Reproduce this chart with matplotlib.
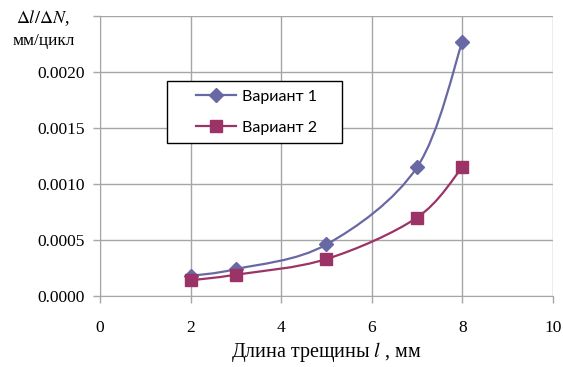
import numpy as np
import matplotlib.pyplot as plt
from matplotlib.path import Path
from matplotlib.patches import PathPatch, Rectangle
from matplotlib.lines import Line2D

# crack length, mm
crack_len = [2, 3, 5, 7, 8]
# growth rate dl/dN, mm/cycle
rate_v1 = [0.00018, 0.00024, 0.00046, 0.00115, 0.00227]
rate_v2 = [0.00014, 0.00019, 0.00033, 0.00070, 0.00115]
series_names = ["Вариант 1", "Вариант 2"]

x_ticks = [0, 2, 4, 6, 8, 10]
y_ticks = [0.0, 0.0005, 0.0010, 0.0015, 0.0020, 0.0025]
y_labels = ["0.0000", "0.0005", "0.0010", "0.0015", "0.0020", ""]

COL1 = "#6868a4"
COL2 = "#9c3366"
GRID = "#a6a6a6"
SERIF = "Liberation Serif"


def smooth_path(xs, ys):
    """Excel-like smoothed line: cubic Bezier through the points."""
    pts = np.column_stack([xs, ys]).astype(float)
    ext = np.vstack([pts[0], pts, pts[-1]])
    verts = [pts[0]]
    codes = [Path.MOVETO]
    for i in range(len(pts) - 1):
        p0, p1, p2, p3 = ext[i], ext[i + 1], ext[i + 2], ext[i + 3]
        verts += [p1 + (p2 - p0) / 6, p2 - (p3 - p1) / 6, p2]
        codes += [Path.CURVE4] * 3
    return Path(verts, codes)


fig = plt.figure(figsize=(5.63, 3.67), dpi=100)
ax = fig.add_axes([0.1776, 0.1935, 0.8044, 0.7625])

for ys, col, mk, ms in [(rate_v1, COL1, "D", 7), (rate_v2, COL2, "s", 8)]:
    ax.add_patch(PathPatch(smooth_path(crack_len, ys), facecolor="none",
                           edgecolor=col, lw=1.6, zorder=3))
    ax.plot(crack_len, ys, ls="none", marker=mk, ms=ms, color=col, zorder=4)

ax.set_xlim(0, 10)
ax.set_ylim(0, 0.0025)
ax.set_xticks(x_ticks)
ax.set_yticks(y_ticks)
ax.set_yticklabels(y_labels)
ax.grid(True, color=GRID, lw=1)
ax.set_axisbelow(True)
for s in ["top", "right"]:
    ax.spines[s].set_visible(False)
for s in ["left", "bottom"]:
    ax.spines[s].set_color(GRID)
ax.tick_params(direction="out", length=5, color=GRID, width=1,
               labelsize=12.5, pad=6)
for lab in ax.get_xticklabels() + ax.get_yticklabels():
    lab.set_fontfamily(SERIF)
ax.tick_params(axis="x", pad=12)

ax.set_xlabel("Длина трещины $l$ , мм", fontsize=14.5, family=SERIF,
              math_fontfamily="stix", labelpad=3)
fig.text(0.075, 0.95, r"$\Delta l/\Delta N$,", fontsize=13, family=SERIF,
         math_fontfamily="stix", ha="center", va="center")
fig.text(0.078, 0.888, "мм/цикл", fontsize=12.5, family=SERIF,
         ha="center", va="center")

# legend box (Excel style, fixed size) and entries
ax.add_patch(Rectangle((0.148, 0.546), 0.386, 0.222, transform=ax.transAxes,
                       facecolor="white", edgecolor="black", lw=1.0,
                       zorder=5))
handles = [Line2D([], [], color=COL1, lw=1.6, marker="D", ms=7),
           Line2D([], [], color=COL2, lw=1.6, marker="s", ms=8)]
leg = ax.legend(handles, series_names, loc="upper left",
                bbox_to_anchor=(0.212, 0.738), frameon=False,
                borderpad=0, labelspacing=1.05, handlelength=2.5,
                handletextpad=0.4, borderaxespad=0,
                prop={"family": "Lato", "size": 11.5})
leg.set_zorder(6)

fig.savefig("out.png", dpi=100)
